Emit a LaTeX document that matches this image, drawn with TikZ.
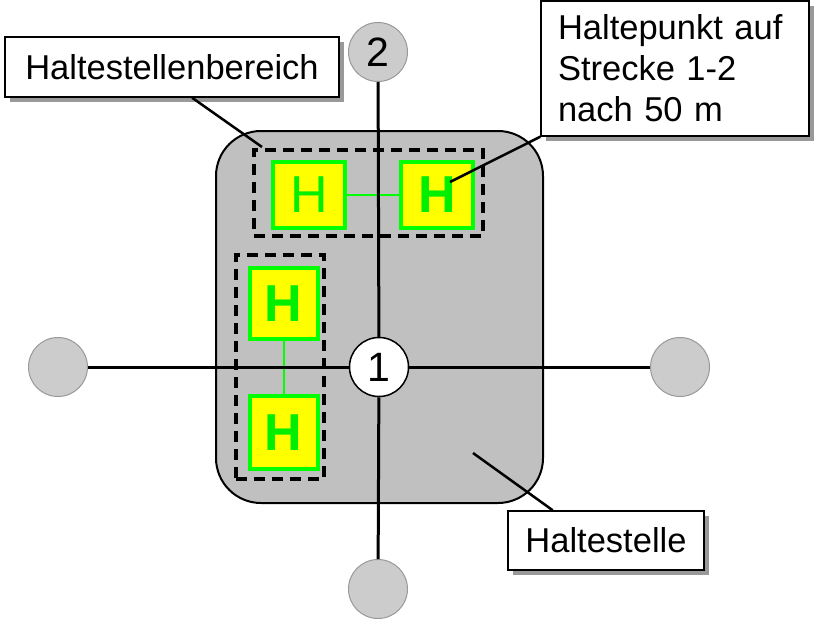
\documentclass[tikz,border=0pt]{standalone}
\usepackage{fontspec}
\setmainfont{Liberation Sans}
\usetikzlibrary{shadows,calc}
\definecolor{stopgray}{HTML}{C0C0C0}
\definecolor{nodegray}{HTML}{CCCCCC}
\definecolor{hgreen}{HTML}{00FF00}
\definecolor{htext}{HTML}{00EE00}
\definecolor{hyellow}{HTML}{FFFF00}
\definecolor{shadowgray}{HTML}{999999}
\begin{document}
\begin{tikzpicture}[x=1pt,y=-1pt,
  labelbox/.style={draw=black, line width=1.5pt, fill=white, inner sep=0pt,
    font=\fontsize{34.5}{41}\selectfont,
    drop shadow={shadow xshift=5pt, shadow yshift=-5pt, fill=shadowgray, opacity=1}},
  hbox/.style={draw=hgreen, line width=4pt, fill=hyellow, inner sep=0pt,
    text=htext, font=\fontsize{52}{52}\selectfont\bfseries},
  hboxthin/.style={hbox, font=\fontsize{52}{52}\selectfont},
  zone/.style={draw=black, line width=4pt, dash pattern=on 11pt off 7pt},
  mainline/.style={draw=black, line width=3pt},
  leader/.style={draw=black, line width=2.5pt},
  greenline/.style={draw=hgreen, line width=2pt},
  outer/.style={circle, draw=gray!80, line width=1pt, fill=nodegray, minimum size=59pt,
    inner sep=0pt, font=\fontsize{41}{41}\selectfont},
  center/.style={circle, draw=black, line width=1.5pt, fill=white, minimum size=59pt,
    inner sep=0pt, font=\fontsize{41}{41}\selectfont}
]
\useasboundingbox (0,0) rectangle (818,621);

% Haltestelle area
\node[draw=black, line width=2pt, fill=stopgray, rounded corners=45pt,
  minimum width=327pt, minimum height=372pt, inner sep=0pt] (stop) at (379.5,317) {};

% Haltestellenbereiche (dashed)
\node[zone, minimum width=229pt, minimum height=86pt, inner sep=0pt] (zonetop) at (368.5,193) {};
\node[zone, minimum width=88pt, minimum height=224pt, inner sep=0pt] (zoneleft) at (280,367) {};

% Haltepunkte
\node[hboxthin, minimum width=72pt, minimum height=66pt] (h1) at (309,195) {H};
\node[hbox, minimum width=72pt, minimum height=66pt] (h2) at (437,195) {H};
\node[hbox, minimum width=68pt, minimum height=71pt] (h3) at (283.5,303.5) {H};
\node[hbox, minimum width=68pt, minimum height=73pt] (h4) at (283.5,432.5) {H};

\draw[greenline] (h1.east) -- (h2.west);
\draw[greenline] (h3.south) -- (h4.north);

% Knoten
\node[center] (n1) at (379,367) {1};
\node[outer] (n2) at (378,52) {2};
\node[outer] (nl) at (58,367) {};
\node[outer] (nr) at (680,367) {};
\node[outer] (nb) at (378,589) {};

\draw[mainline] (n2) -- (n1);
\draw[mainline] (nl) -- (n1);
\draw[mainline] (n1) -- (nr);
\draw[mainline] (n1) -- (nb);

% Labels
\node[labelbox, minimum width=334pt, minimum height=60pt] (hb) at (172,67) {Haltestellenbereich};
\node[labelbox, align=left, text width=234pt, inner xsep=17pt, minimum height=135pt] (hp) at (675,68.5)
  {Haltepunkt auf\\Strecke 1-2\\nach 50 m};
\node[labelbox, minimum width=196pt, minimum height=59pt] (hs) at (606,540.5) {Haltestelle};

\coordinate (hbend) at (262,147);
\coordinate (hpend) at (450,182);
\coordinate (hsend) at (473,453);

\draw[leader] ($(hb.south west)!0.56!(hb.south east)$) -- (hbend);
\draw[leader] (hp.south west) -- (hpend);
\draw[leader] ($(hs.north west)!0.23!(hs.north east)$) -- (hsend);
\end{tikzpicture}
\end{document}
